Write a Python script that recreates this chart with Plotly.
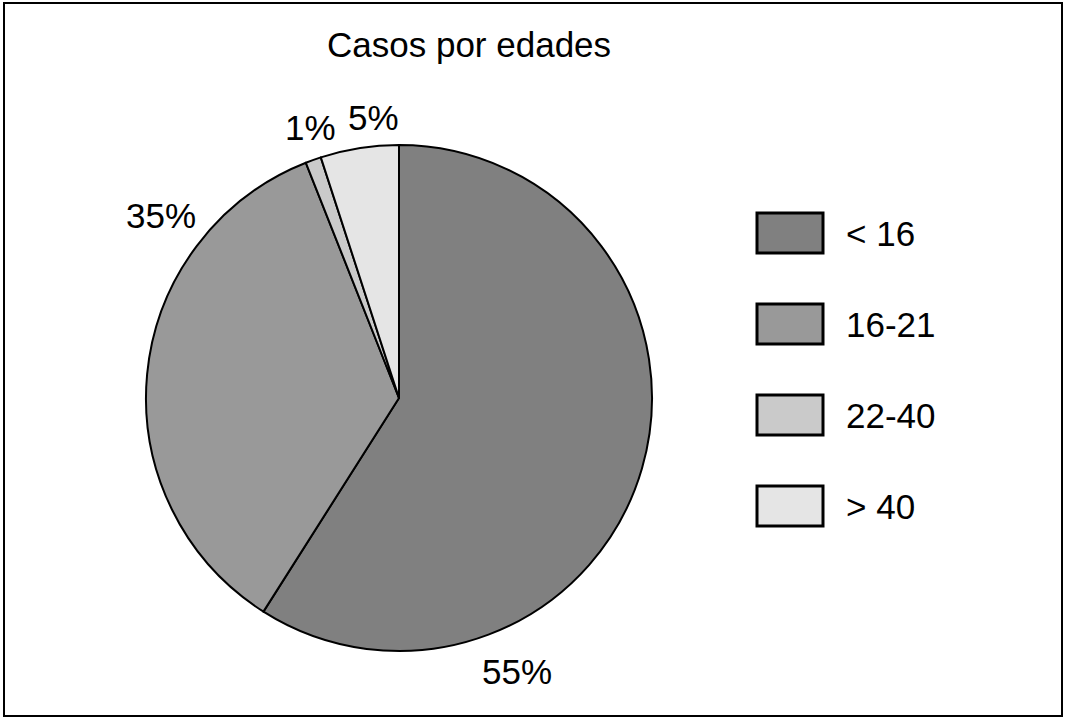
import plotly.graph_objects as go

W, H = 1071, 721

# Data
categories = ["< 16", "16-21", "22-40", "> 40"]
slice_values = [59, 35, 1, 5]          # share as drawn (angle of each slice)
label_texts = ["55%", "35%", "1%", "5%"]  # percentages printed on the chart
colors = ["#808080", "#999999", "#cacaca", "#e5e5e5"]

FONT = "Liberation Sans, Arial, Helvetica, sans-serif"
FS = 35


def px(x):
    return x / W


def py(y):
    return 1 - y / H


cx, cy, r = 399, 398, 253

fig = go.Figure(
    go.Pie(
        labels=categories,
        values=slice_values,
        sort=False,
        direction="clockwise",
        rotation=0,
        marker=dict(colors=colors, line=dict(color="black", width=2)),
        textinfo="none",
        hoverinfo="label+value",
        showlegend=False,
        domain=dict(x=[px(cx - r), px(cx + r)], y=[py(cy + r), py(cy - r)]),
    )
)

annotations = [
    dict(text="Casos por edades", x=px(469), y=py(45), xref="paper", yref="paper",
         showarrow=False, font=dict(size=FS, color="black", family=FONT),
         xanchor="center", yanchor="middle"),
]

# percent labels
label_pos = [(517, 671), (161, 216), (310, 127), (373, 117)]
for t, (lx, ly) in zip(label_texts, label_pos):
    annotations.append(dict(text=t, x=px(lx), y=py(ly), xref="paper", yref="paper",
                            showarrow=False, font=dict(size=FS, color="black", family=FONT),
                            xanchor="center", yanchor="middle"))

shapes = [
    dict(type="rect", xref="paper", yref="paper", x0=px(4), x1=px(1062), y0=py(716), y1=py(3),
         line=dict(color="black", width=2), fillcolor="rgba(0,0,0,0)", layer="above"),
]

# legend built by hand (large swatches)
leg_y = [233, 324, 415, 506]
for cat, col, yy in zip(categories, colors, leg_y):
    shapes.append(dict(type="rect", xref="paper", yref="paper",
                       x0=px(757), x1=px(823), y0=py(yy + 20), y1=py(yy - 20),
                       fillcolor=col, line=dict(color="black", width=3)))
    annotations.append(dict(text=cat, x=px(844), y=py(yy), xref="paper", yref="paper",
                            showarrow=False, font=dict(size=FS, color="black", family=FONT),
                            xanchor="left", yanchor="middle"))

fig.update_layout(
    width=W, height=H,
    margin=dict(l=0, r=0, t=0, b=0),
    paper_bgcolor="white",
    plot_bgcolor="white",
    annotations=annotations,
    shapes=shapes,
)

fig.write_html("out.html", config={"displayModeBar": False},
               post_script="document.body.style.margin='0';")
